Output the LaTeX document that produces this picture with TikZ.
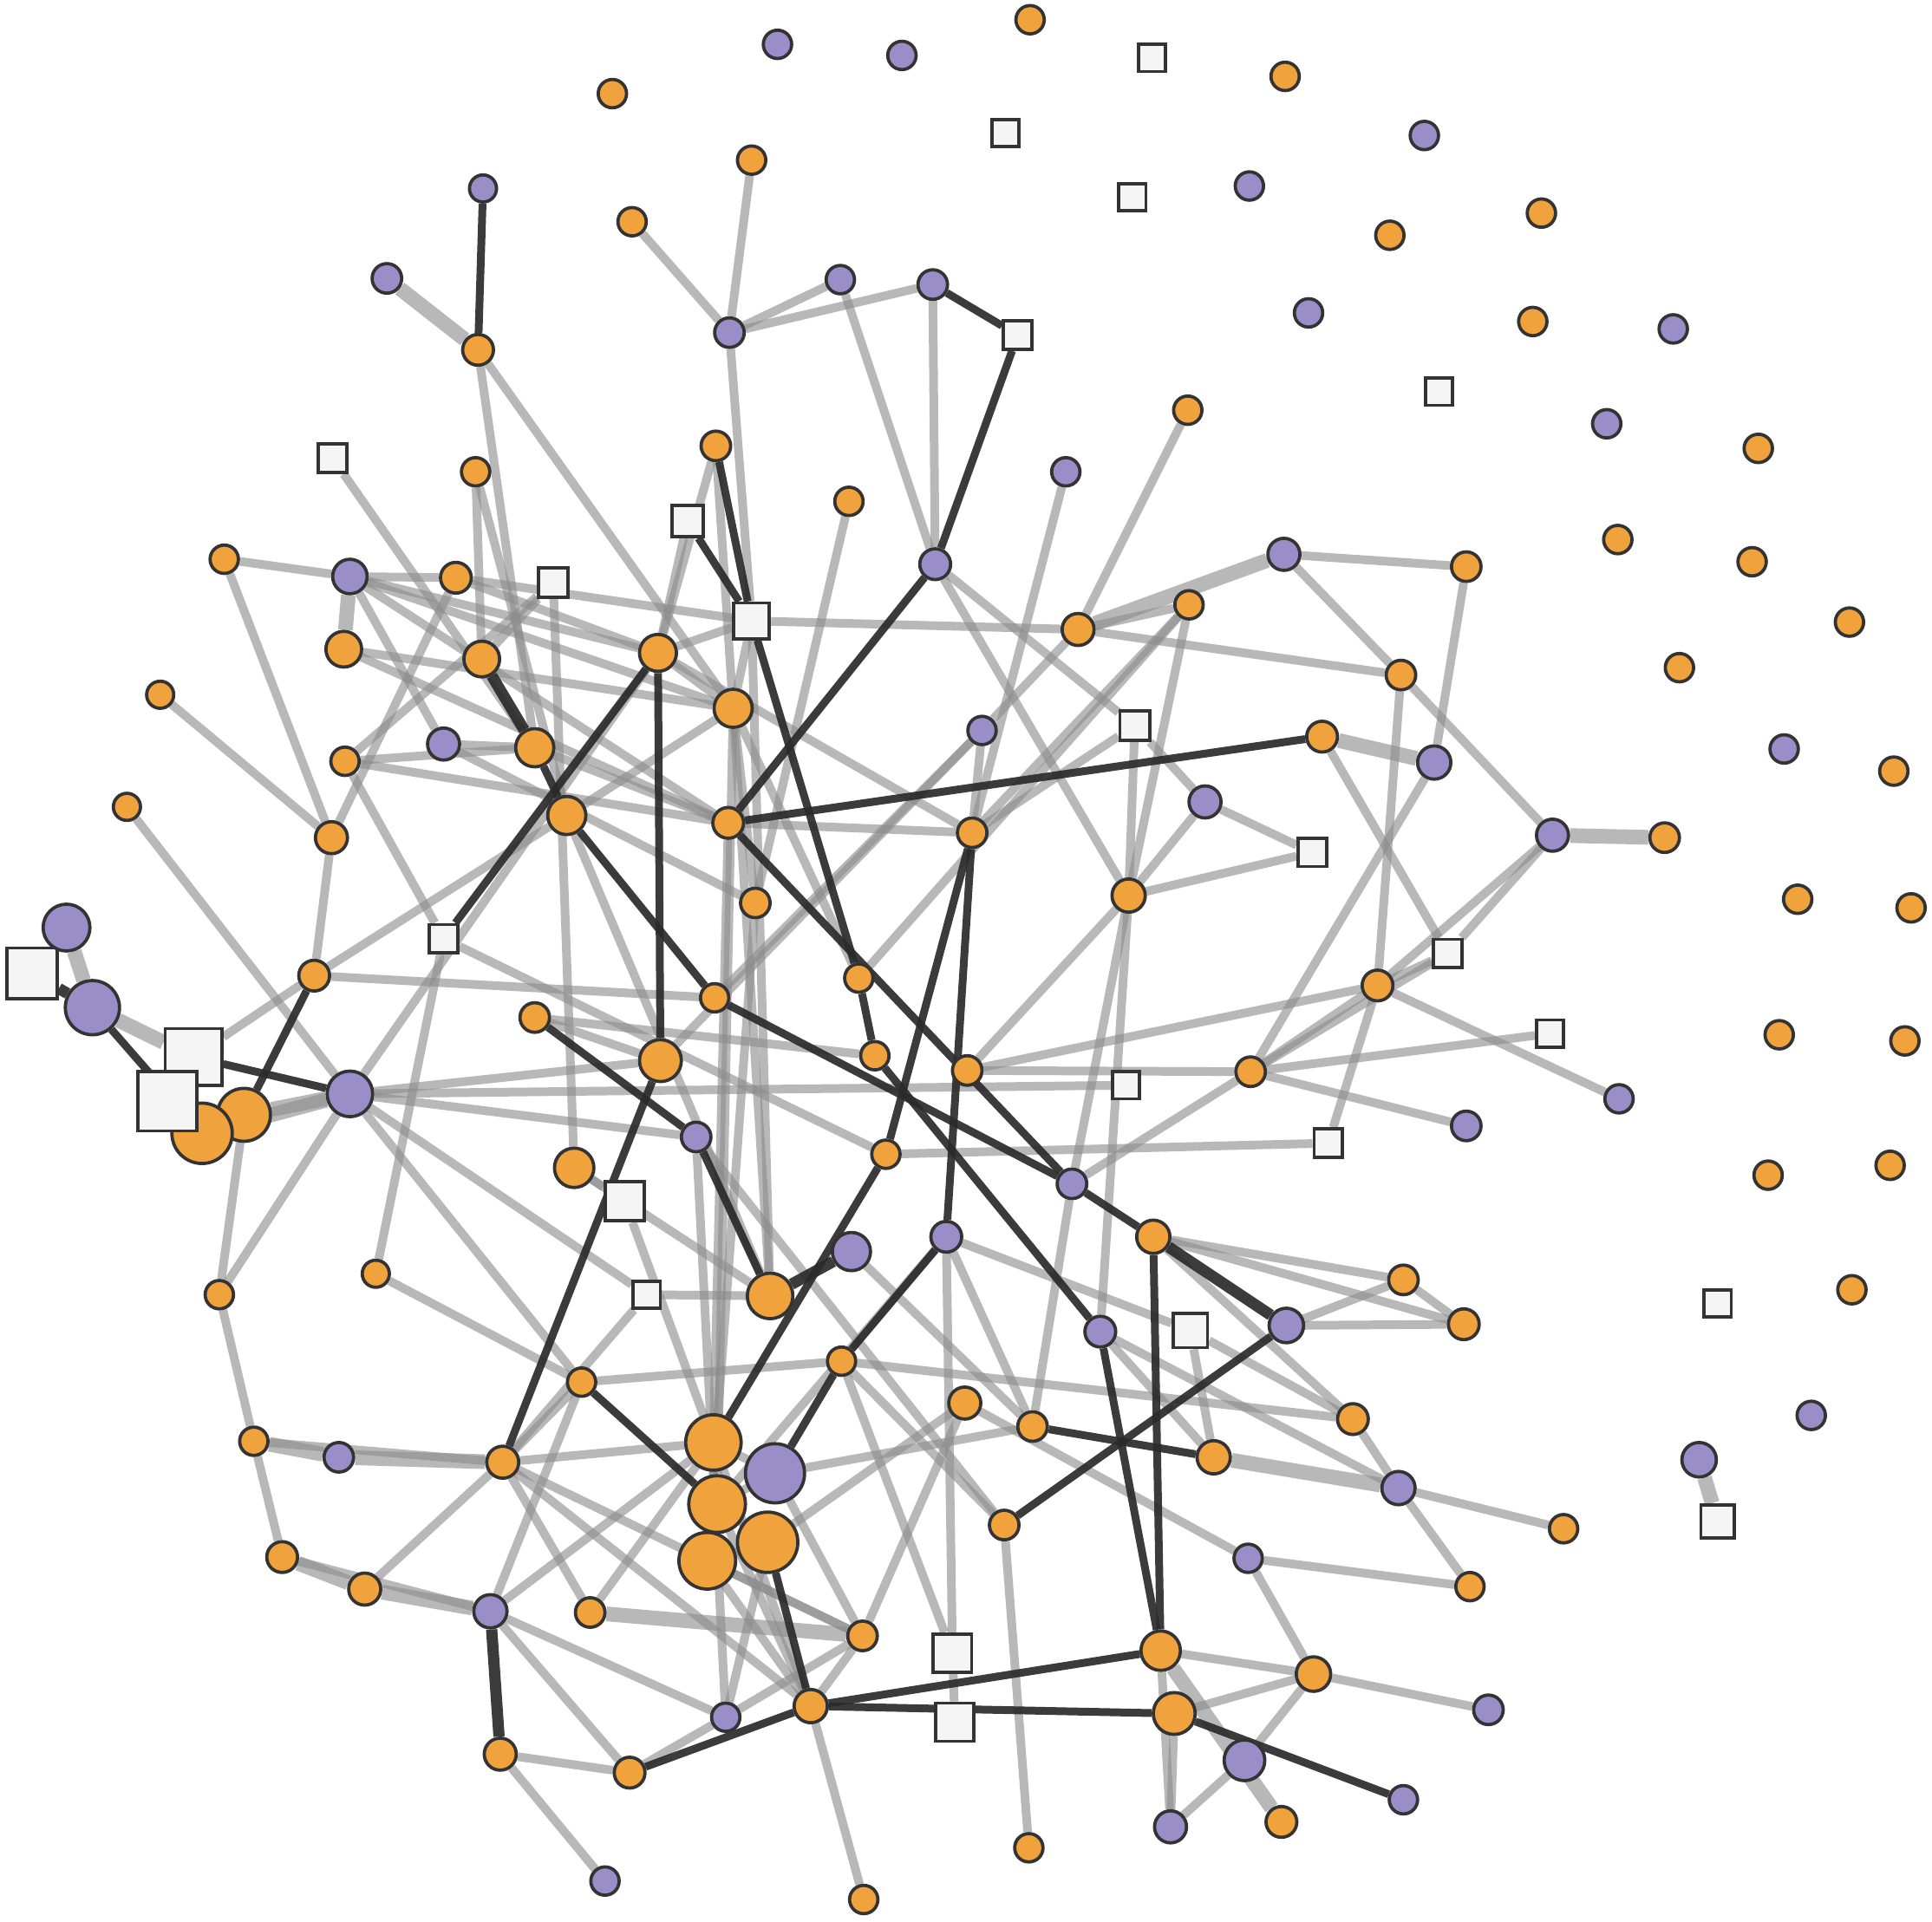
\documentclass[tikz,border=0pt]{standalone}
\pgfdeclarelayer{ledges}
\pgfdeclarelayer{dedges}
\pgfsetlayers{ledges,dedges,main}
\definecolor{org}{HTML}{F0A23C}
\definecolor{pur}{HTML}{9A8EC8}
\definecolor{bd}{HTML}{333333}
\definecolor{sqf}{HTML}{F5F5F5}
\definecolor{lgray}{HTML}{8C8C8C}
\definecolor{dgray}{HTML}{2A2A2A}
\tikzset{
  on/.style={circle,draw=bd,fill=org,line width=0.75pt,inner sep=0pt,minimum size=#1},
  pn/.style={circle,draw=bd,fill=pur,line width=0.75pt,inner sep=0pt,minimum size=#1},
  sq/.style={rectangle,draw=bd,fill=sqf,line width=0.75pt,inner sep=0pt,minimum size=#1},
  lt/.style={draw=lgray,line width=2.0pt,draw opacity=0.62},
  ltk/.style={draw=lgray,line width=3.4pt,draw opacity=0.62},
  dk/.style={draw=dgray,line width=1.8pt,draw opacity=0.92},
  dkk/.style={draw=dgray,line width=2.6pt,draw opacity=0.92}
}
\begin{document}
\begin{tikzpicture}[x=0.1mm,y=-0.1mm]
\useasboundingbox (0,0) rectangle (1568,1560);
% isolated nodes
\node[on=2.3mm] (i1) at (836,16) {};
\node[pn=2.3mm] (i2) at (631,36) {};
\node[pn=2.3mm] (i3) at (732,45) {};
\node[sq=2.2mm] (i4) at (935,47) {};
\node[on=2.3mm] (i5) at (1043,62) {};
\node[on=2.3mm] (i6) at (497,76) {};
\node[sq=2.2mm] (i7) at (816,108) {};
\node[pn=2.3mm] (i8) at (1156,110) {};
\node[sq=2.2mm] (i9) at (919,160) {};
\node[pn=2.3mm] (i10) at (1014,151) {};
\node[on=2.3mm] (i11) at (1251,173) {};
\node[on=2.3mm] (i12) at (1128,191) {};
\node[pn=2.3mm] (i13) at (1062,254) {};
\node[on=2.3mm] (i14) at (1244,261) {};
\node[pn=2.3mm] (i15) at (1358,267) {};
\node[sq=2.2mm] (i16) at (1168,318) {};
\node[pn=2.3mm] (i17) at (1304,344) {};
\node[on=2.3mm] (i18) at (1427,364) {};
\node[on=2.3mm] (i19) at (1313,438) {};
\node[on=2.3mm] (i20) at (1422,456) {};
\node[on=2.3mm] (i21) at (1501,505) {};
\node[on=2.3mm] (i22) at (1363,542) {};
\node[pn=2.3mm] (i23) at (1448,608) {};
\node[on=2.3mm] (i24) at (1537,626) {};
\node[on=2.3mm] (i25) at (1459,730) {};
\node[on=2.3mm] (i26) at (1551,737) {};
\node[on=2.3mm] (i27) at (1444,840) {};
\node[on=2.3mm] (i28) at (1546,845) {};
\node[on=2.3mm] (i29) at (1435,954) {};
\node[on=2.3mm] (i30) at (1534,946) {};
\node[sq=2.2mm] (i31) at (1394,1058) {};
\node[on=2.3mm] (i32) at (1503,1047) {};
\node[pn=2.3mm] (i33) at (1470,1149) {};
\node[pn=2.8mm] (a1) at (1379,1185) {};
\node[sq=2.7mm] (a2) at (1394,1235) {};
% main nodes
\node[pn=2.2mm] (A) at (392,153) {};
\node[on=2.3mm] (B) at (513,180) {};
\node[pn=2.4mm] (C) at (314,226) {};
\node[on=2.3mm] (D) at (610,130) {};
\node[pn=2.4mm] (E) at (592,270) {};
\node[pn=2.3mm] (F) at (682,227) {};
\node[pn=2.4mm] (G) at (757,231) {};
\node[sq=2.3mm] (H) at (826,272) {};
\node[on=2.5mm] (I) at (388,284) {};
\node[on=2.3mm] (J) at (964,333) {};
\node[sq=2.3mm] (K) at (270,372) {};
\node[on=2.4mm] (L) at (581,362) {};
\node[on=2.3mm] (M) at (386,383) {};
\node[pn=2.3mm] (N) at (865,383) {};
\node[on=2.3mm] (Q) at (689,407) {};
\node[sq=2.5mm] (R) at (558,423) {};
\node[on=2.3mm] (T) at (182,454) {};
\node[pn=2.8mm] (U) at (284,468) {};
\node[on=2.5mm] (V) at (370,469) {};
\node[sq=2.4mm] (W) at (449,473) {};
\node[pn=2.5mm] (X) at (759,458) {};
\node[pn=2.6mm] (Y) at (1042,450) {};
\node[on=2.4mm] (Z) at (1190,460) {};
\node[sq=2.9mm] (Sa) at (610,504) {};
\node[on=2.6mm] (Ob) at (875,511) {};
\node[on=2.3mm] (Oc) at (965,491) {};
\node[on=2.9mm] (Od) at (279,527) {};
\node[on=2.9mm] (Oe) at (391,535) {};
\node[on=3.0mm] (Of) at (534,530) {};
\node[on=2.4mm] (Og) at (1137,548) {};
\node[on=2.2mm] (Oh) at (130,564) {};
\node[on=3.1mm] (Oi) at (595,575) {};
\node[pn=2.6mm] (Pj) at (360,604) {};
\node[on=3.1mm] (Ok) at (434,607) {};
\node[sq=2.4mm] (Sl) at (921,589) {};
\node[on=2.5mm] (Om) at (1073,598) {};
\node[pn=2.3mm] (Pn) at (797,593) {};
\node[on=2.3mm] (Oo) at (280,618) {};
\node[pn=2.7mm] (Pp) at (1164,619) {};
\node[on=2.2mm] (Oq) at (103,655) {};
\node[on=3.1mm] (Or) at (460,662) {};
\node[on=2.5mm] (Os) at (591,668) {};
\node[on=2.4mm] (Ot) at (789,676) {};
\node[pn=2.6mm] (Pu) at (978,651) {};
\node[sq=2.3mm] (Sv) at (1065,692) {};
\node[on=2.6mm] (Ow) at (269,680) {};
\node[pn=2.6mm] (Px) at (1260,678) {};
\node[on=2.4mm] (Oy) at (1351,680) {};
\node[on=2.7mm] (Oz) at (916,727) {};
\node[on=2.4mm] (Oa2) at (613,733) {};
\node[sq=4.1mm] (Sc2) at (26,790) {};
\node[pn=3.8mm] (Pb2) at (54,753) {};
\node[sq=2.3mm] (Sd2) at (360,762) {};
\node[sq=2.3mm] (Se2) at (1175,774) {};
\node[on=2.5mm] (Of2) at (255,792) {};
\node[on=2.3mm] (Og2) at (697,794) {};
\node[on=2.5mm] (Oh2) at (1118,800) {};
\node[on=2.3mm] (Oi2) at (580,810) {};
\node[pn=4.4mm] (Pj2) at (75,818) {};
\node[on=2.4mm] (Ok2) at (434,826) {};
\node[sq=2.2mm] (Sl2) at (1258,839) {};
\node[on=3.4mm] (On2) at (536,861) {};
\node[on=2.3mm] (Oo2) at (710,857) {};
\node[on=2.4mm] (Op2) at (785,869) {};
\node[on=2.4mm] (Oq2) at (1015,870) {};
\node[sq=2.2mm] (Ss2) at (914,881) {};
\node[on=4.3mm] (Ou2) at (198,905) {};
\node[on=4.9mm] (Ov2) at (164,920) {};
\node[sq=4.6mm] (Sm2) at (157,858) {};
\node[sq=4.8mm] (St2) at (136,894) {};
\node[pn=3.7mm] (Pr2) at (284,888) {};
\node[pn=2.3mm] (Pw2) at (1314,892) {};
\node[pn=2.4mm] (Px2) at (1190,914) {};
\node[pn=2.4mm] (Py2) at (565,923) {};
\node[on=2.3mm] (Oz2) at (719,937) {};
\node[sq=2.3mm] (Sa3) at (1078,928) {};
\node[on=3.2mm] (Ob3) at (466,948) {};
\node[sq=3.2mm] (Sc3) at (507,975) {};
\node[pn=2.4mm] (Pd3) at (870,961) {};
\node[on=2.7mm] (Oe3) at (936,1004) {};
\node[pn=2.5mm] (Pf3) at (768,1004) {};
\node[pn=3.1mm] (Pg3) at (691,1016) {};
\node[on=3.7mm] (Oh3) at (625,1052) {};
\node[sq=2.2mm] (Si3) at (525,1051) {};
\node[on=2.2mm] (Oj3) at (305,1034) {};
\node[on=2.3mm] (Ok3) at (178,1051) {};
\node[on=2.4mm] (Ol3) at (1139,1039) {};
\node[on=2.5mm] (Om3) at (1188,1075) {};
\node[pn=2.8mm] (Pn3) at (1044,1076) {};
\node[sq=2.8mm] (So3) at (966,1080) {};
\node[pn=2.5mm] (Pp3) at (893,1081) {};
\node[on=2.3mm] (Oq3) at (683,1105) {};
\node[on=2.3mm] (Or3) at (472,1122) {};
\node[on=2.6mm] (Os3) at (783,1139) {};
\node[on=2.5mm] (Ot3) at (1098,1152) {};
\node[on=2.4mm] (Ou3) at (838,1158) {};
\node[on=4.5mm] (Ov3) at (579,1171) {};
\node[on=4.6mm] (Oc4) at (582,1221) {};
\node[on=4.9mm] (Od4) at (623,1252) {};
\node[on=4.6mm] (Oe4) at (574,1267) {};
\node[pn=4.8mm] (Pw3) at (629,1196) {};
\node[on=2.3mm] (Ox3) at (206,1170) {};
\node[pn=2.4mm] (Py3) at (275,1183) {};
\node[on=2.6mm] (Oz3) at (408,1187) {};
\node[on=2.7mm] (Oa4) at (985,1183) {};
\node[pn=2.7mm] (Pb4) at (1135,1208) {};
\node[on=2.4mm] (Of4) at (815,1238) {};
\node[on=2.3mm] (Og4) at (1269,1241) {};
\node[on=2.5mm] (Oh4) at (229,1264) {};
\node[pn=2.3mm] (Pi4) at (1013,1265) {};
\node[on=2.6mm] (Oj4) at (296,1290) {};
\node[on=2.3mm] (Ok4) at (1193,1288) {};
\node[pn=2.7mm] (Pl4) at (398,1308) {};
\node[on=2.4mm] (Om4) at (479,1309) {};
\node[on=2.4mm] (On4) at (700,1328) {};
\node[sq=3.1mm] (So4) at (773,1342) {};
\node[on=3.2mm] (Op4) at (942,1340) {};
\node[on=2.8mm] (Oq4) at (1066,1359) {};
\node[pn=2.4mm] (Pr4) at (1208,1388) {};
\node[pn=2.3mm] (Ps4) at (589,1394) {};
\node[on=2.7mm] (Ot4) at (658,1385) {};
\node[sq=3.1mm] (Su4) at (775,1398) {};
\node[on=3.4mm] (Ov4) at (953,1391) {};
\node[pn=3.3mm] (Pw4) at (1010,1429) {};
\node[on=2.6mm] (Ox4) at (406,1424) {};
\node[on=2.5mm] (Oy4) at (511,1439) {};
\node[pn=2.3mm] (Pz4) at (1139,1461) {};
\node[on=2.5mm] (Oa5) at (1040,1479) {};
\node[pn=2.6mm] (Pb5) at (950,1483) {};
\node[on=2.3mm] (Oc5) at (835,1500) {};
\node[pn=2.3mm] (Pd5) at (491,1527) {};
\node[on=2.3mm] (Oe5) at (701,1542) {};
% dark edges
\begin{pgfonlayer}{dedges}
\foreach \a/\b in {A/I,G/H,H/X,X/Os,L/Sa,R/Sa,Sa/Og2,Og2/Oo2,Oo2/Pp3,Os/Om,Of/On2,Of/Sd2,
  Ok/Or,Or/Oi2,Oi2/Pd3,Os/Pd3,Pd3/Oe3,Oe3/Op4,Pp3/Op4,Pn3/Of4,Ou3/Oa4,Ot/Oz2,Ot/Pf3,Oz2/Ov3,
  Py2/Oh3,Ok2/Py2,On2/Oz3,Or3/Oc4,Pf3/Oq3,Oq3/Pw3,Od4/Ot4,Ot4/Op4,Ot4/Ov4,Ot4/Oy4,Ov4/Pz4,Pj2/Ov2,Sm2/Pr2,Of2/Ou2}
  {\draw[dk] (\a) -- (\b);}
\foreach \a/\b in {Oe/Ok,Oe3/Pn3,Oh3/Pg3,Pl4/Ox4,Sc2/Pj2}
  {\draw[dkk] (\a) -- (\b);}
\end{pgfonlayer}
% light edges
\begin{pgfonlayer}{ledges}
\foreach \a/\b in {B/E,D/E,E/F,E/G,F/X,G/X,E/Sa,I/Ok,I/Oi,K/Ok,M/Oe,M/Or,T/U,U/V,V/Sa,V/Of,
  U/Pj,U/Os,U/Of,U/Oi,W/Oe,W/Ob3,Oo/W,L/Oi,L/Of,R/Of,Q/Oa2,N/Ot,J/Ob,X/Oz,X/Sl,Sa/Ob,Ob/Oc,Ob/Og,Y/Z,Y/Og,
  Z/Pp,Oc/Oz,Oc/Ot,Om/Se2,Sl/Pu,Sl/Oz,Pu/Oz,Pu/Sv,Oz/Sv,Og/Px,Og/Oh2,Px/Oh2,Px/Se2,Oh2/Se2,
  Oh2/Oq2,Oq2/Se2,Oq2/Sl2,Oh2/Pw2,Oq2/Px2,Oh2/Op2,Oh2/Sa3,Oz2/Sa3,Op2/Oq2,Pp/Oq2,Oq2/Pd3,
  Oh/Ow,Oq/Pr2,T/Ow,Ow/Of2,V/Ow,Sm2/Of2,Of2/Oi2,Of2/Or,Oo/Ok,Oo/Os,Oo/Sd2,Od/Os,Od/Oi,Pj/Ok,Pj/Oa2,
  Ok/Os,Oi/Oh3,Or/Oh3,
  Oj3/Sd2,Oj3/Or3,Pr2/Ok3,Ou2/Ok3,Ok3/Ox3,Ox3/Oz3,Ox3/Oh4,Oh4/Pl4,Oj4/Oz3,Pl4/Or3,Pl4/Ov3,
  Pl4/Oy4,Pl4/Ps4,Ox4/Oy4,Ox4/Pd5,Oz3/Om4,Om4/Ov3,Oz3/On4,Oz3/Ov3,Oz3/Si3,Oz3/Or3,Oz3/Ot4,Oy4/Ps4,Ot4/Oe5,Ot4/On4,
  Ot4/Ov3,Ot4/Oc4,Pw3/On4,
  On4/Os3,On4/Oe4,Oe4/Ot4,Ps4/Od4,Ps4/On4,So4/Su4,So4/Oq3,So4/Pf3,Of4/Oc5,Pr2/Si3,Pr2/Or3,
  Pr2/Py2,Pr2/Ss2,Pr2/Of,Pr2/On2,Sd2/Oz2,Oe3/Ol3,Oe3/Om3,Pn3/Ol3,Pn3/Om3,Ol3/Om3,So3/Oa4,Pf3/So3,
  So3/Ot3,Pp3/Pb4,Pp3/Oa4,Ot3/Pb4,Pb4/Og4,Pb4/Ok4,Pi4/Ok4,Pi4/Oq4,Os3/Pi4,Op4/Oq4,Oq4/Pr4,
  Oq4/Ov4,Oq4/Pw4,Pb5/Op4,Pb5/Pw4,Pb5/Ov4,Ok2/On2,Oi/Sa,Of/Sa,Of/Ot,Of/Oi,Oi/Oa2,Oi/Og2,Oi/Or,
  Pn/Ob,Pn/Ot,Pn/On2,Ot/Sl,Os/Ot,Oz/Op2,Oz/Pd3,Og2/Oc,Oz/Pp3,Ov3/Pw3,Pw3/Oc4,Oc4/Od4,Od4/Oe4,
  Oc4/Oe4,Ot3/Oe3,Sa/Oh3,Oi/Oc4,Os/Ov3,Oa2/Oe4,Ob3/Sc3,Ob3/Oh3,Si3/Oh3,Sc3/Ov3,Or3/Oq3,
  Oq3/Ot3,Pg3/Ou3,Ou3/Pd3,Ou3/Pf3,Of4/Oq3,Of4/Py2,Oi2/Pn,Ok2/Oo2,Py2/Ps4,Pw3/Ou3,Od4/Os3,Oc4/Pf3}
  {\draw[lt] (\a) -- (\b);}
\foreach \a/\b in {C/I,U/Od,Y/Ob,Om/Pp,Px/Oy,Pb2/Pj2,Pj2/Sm2,Ou2/Pr2,Ov2/Pr2,Ox3/Py3,Py3/Oz3,
  Oh4/Oj4,Oj4/Pl4,Om4/On4,Oa4/Pb4,Op4/Oa5,a1/a2}
  {\draw[ltk] (\a) -- (\b);}
\end{pgfonlayer}
\end{tikzpicture}
\end{document}
